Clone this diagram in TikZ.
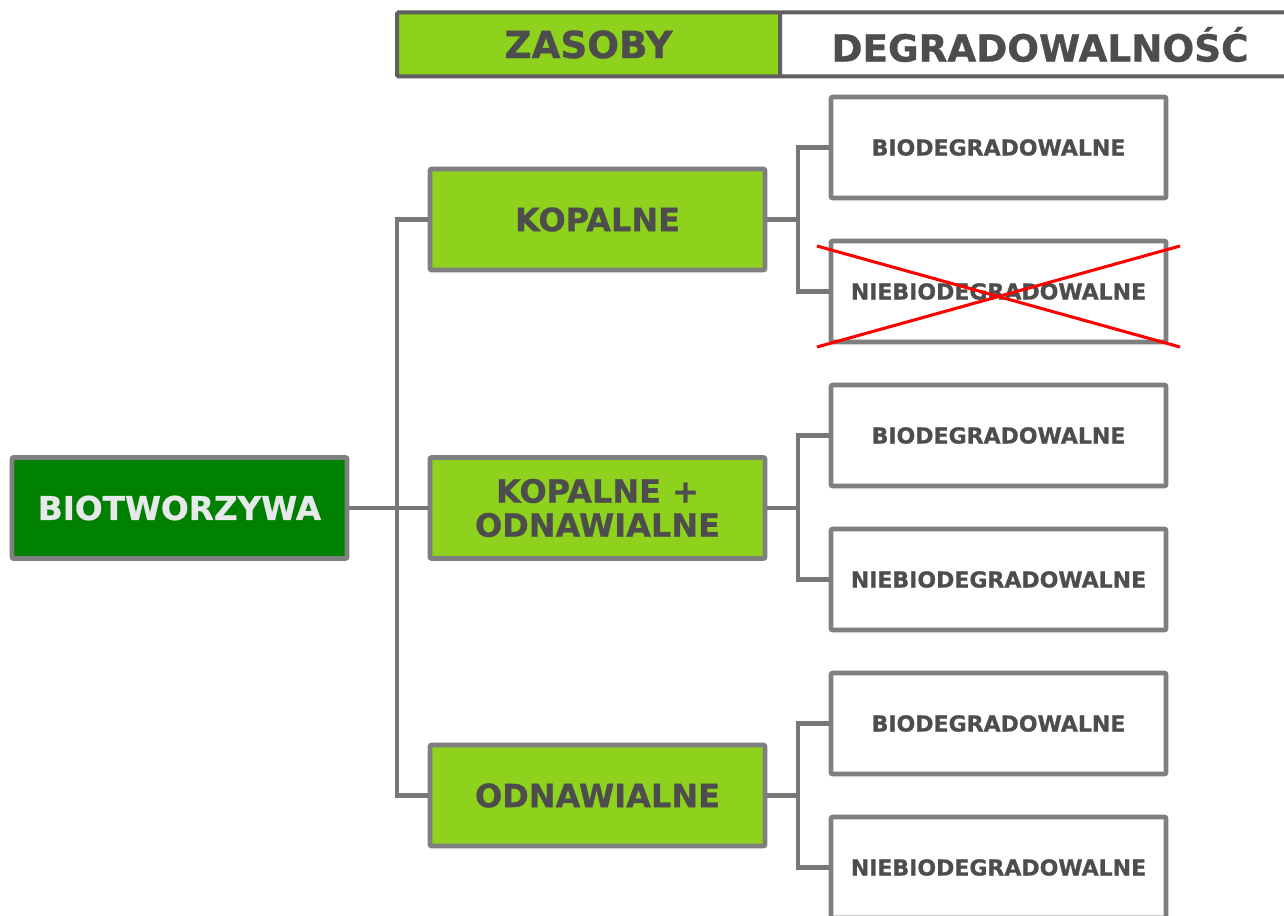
\documentclass[tikz,border=0pt]{standalone}
\usepackage{fontspec}
\setmainfont{DejaVu Sans}[BoldFeatures={FakeBold=0.8}]
\usetikzlibrary{calc}
\definecolor{lgreen}{HTML}{8ED21E}
\definecolor{dgreen}{HTML}{008000}
\definecolor{bordergrey}{HTML}{7F7F7F}
\definecolor{headgrey}{HTML}{606060}
\definecolor{txtgrey}{HTML}{4D4D4D}
\definecolor{conngrey}{HTML}{777777}
\definecolor{biotxt}{HTML}{E6E8EA}
\begin{document}
\begin{tikzpicture}[x=0.75pt,y=-0.75pt,
  basebox/.style={draw=bordergrey, line width=3.7pt, rounded corners=1.5pt,
    minimum width=251.25pt, minimum height=75.75pt, inner sep=0pt, align=center,
    font=\bfseries},
  rootbox/.style={basebox, fill=dgreen, text=biotxt, font=\fontsize{24.5pt}{28pt}\selectfont\bfseries},
  resbox/.style={basebox, fill=lgreen, text=txtgrey, font=\fontsize{24pt}{25.5pt}\selectfont\bfseries},
  degbox/.style={basebox, fill=white, text=txtgrey, font=\fontsize{16.5pt}{19pt}\selectfont\bfseries},
  headbox/.style={draw=headgrey, line width=3pt, rounded corners=1pt, inner sep=0pt,
    minimum height=48pt, text=txtgrey, font=\fontsize{28pt}{32pt}\selectfont\bfseries},
  conn/.style={draw=conngrey, line width=3.6pt},
  cross/.style={draw=red, line width=2.3pt}]
\clip (0,0) rectangle (1284,916);
\useasboundingbox (0,0) rectangle (1284,916);
\fill[white] (0,0) rectangle (1284,916);

% header
\node[headbox, fill=lgreen, minimum width=287.25pt] (hz) at (588.5,44.5) {ZASOBY};
\node[headbox, fill=white, minimum width=390pt] (hd) at (1040,44.5) {DEGRADOWALNOŚĆ};

% nodes
\node[rootbox] (bio) at (179.5,508) {BIOTWORZYWA};
\node[resbox] (kop) at (597.5,219.5) {KOPALNE};
\node[resbox] (mix) at (597.5,508) {KOPALNE +\\ODNAWIALNE};
\node[resbox] (odn) at (597.5,795.5) {ODNAWIALNE};

\node[degbox] (b1) at (998.5,147.5) {BIODEGRADOWALNE};
\node[degbox] (n1) at (998.5,291.5) {NIEBIODEGRADOWALNE};
\node[degbox] (b2) at (998.5,435.5) {BIODEGRADOWALNE};
\node[degbox] (n2) at (998.5,579.5) {NIEBIODEGRADOWALNE};
\node[degbox] (b3) at (998.5,723.5) {BIODEGRADOWALNE};
\node[degbox] (n3) at (998.5,867.5) {NIEBIODEGRADOWALNE};

% connectors left
\coordinate (j0) at (397,508);
\draw[conn] (bio.east) -- (mix.west);
\draw[conn] (kop.west) -- (kop.west -| j0) -- (odn.west -| j0) -- (odn.west);

% connectors right
\coordinate (j1) at (798,0);
\foreach \g/\b/\n in {kop/b1/n1, mix/b2/n2, odn/b3/n3}{
  \draw[conn] (\g.east) -- (\g.east -| j1);
  \draw[conn] (\b.west) -- (\b.west -| j1) -- (\n.west -| j1) -- (\n.west);
}

% red cross
\coordinate (c1) at (817,246);
\coordinate (c2) at (1180,347);
\coordinate (c3) at (817,347);
\coordinate (c4) at (1180,246);
\draw[cross] (c1) -- (c2);
\draw[cross] (c3) -- (c4);
\end{tikzpicture}
\end{document}
